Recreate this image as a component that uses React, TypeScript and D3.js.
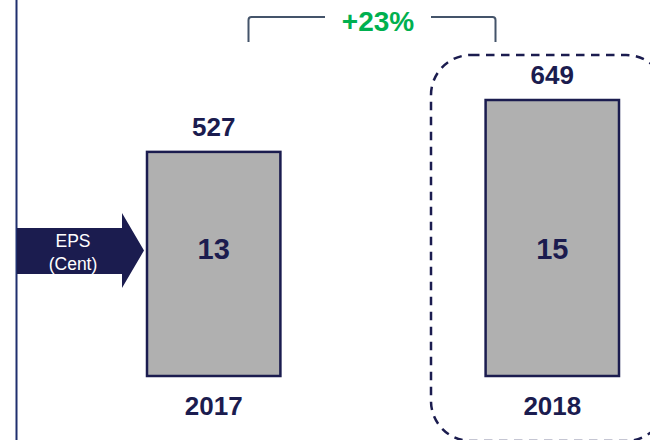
import { useEffect, useRef } from "react";
import * as d3 from "d3";

const years = ["2017", "2018"];
const netIncome = [527, 649];
const eps = [13, 15];
const growthLabel = "+23%";

const W = 650;
const H = 440;
const navy = "#1b1c4f";
const font = "'Liberation Sans', Arial, sans-serif";

const App = () => {
  const ref = useRef<SVGSVGElement>(null);

  useEffect(() => {
    if (!ref.current) return;
    const svg = d3.select(ref.current);
    svg.selectAll("*").remove();

    const baseline = 376;
    const y = d3.scaleLinear().domain([0, 649]).range([baseline, 100]);
    const x = d3
      .scaleBand<string>()
      .domain(years)
      .range([147, 619])
      .paddingInner(0.606)
      .paddingOuter(0);

    // left rule
    svg
      .append("line")
      .attr("x1", 16.5)
      .attr("x2", 16.5)
      .attr("y1", 0)
      .attr("y2", H)
      .attr("stroke", "#1f2f6e")
      .attr("stroke-width", 2);

    // dashed highlight box around 2018
    svg
      .append("rect")
      .attr("x", 431)
      .attr("y", 55)
      .attr("width", 235)
      .attr("height", 386)
      .attr("rx", 40)
      .attr("fill", "none")
      .attr("stroke", navy)
      .attr("stroke-width", 2.5)
      .attr("stroke-dasharray", "8.5 6.5");

    // growth bracket
    const bracket = svg.append("g").attr("fill", "none").attr("stroke", "#44546a").attr("stroke-width", 2);
    bracket
      .append("path")
      .attr("d", "M248.5,42 L248.5,20 Q248.5,17 251.5,17 L325,17");
    bracket
      .append("path")
      .attr("d", "M431,17 L492.5,17 Q495.5,17 495.5,20 L495.5,42");
    svg
      .append("text")
      .attr("x", 378)
      .attr("y", 31)
      .attr("text-anchor", "middle")
      .attr("font-family", font)
      .attr("font-weight", "bold")
      .attr("font-size", 28)
      .attr("fill", "#00b04f")
      .text(growthLabel);

    // bars
    const g = svg.append("g");
    g.selectAll("rect.bar")
      .data(years)
      .enter()
      .append("rect")
      .attr("class", "bar")
      .attr("x", (d) => x(d)!)
      .attr("y", (_d, i) => y(netIncome[i]))
      .attr("width", x.bandwidth())
      .attr("height", (_d, i) => baseline - y(netIncome[i]))
      .attr("fill", "#b0b0b0")
      .attr("stroke", navy)
      .attr("stroke-width", 2.5);

    const cx = (d: string) => x(d)! + x.bandwidth() / 2;

    g.selectAll("text.val")
      .data(years)
      .enter()
      .append("text")
      .attr("class", "val")
      .attr("x", cx)
      .attr("y", (_d, i) => y(netIncome[i]) - 16)
      .attr("text-anchor", "middle")
      .attr("font-family", font)
      .attr("font-weight", "bold")
      .attr("font-size", 26)
      .attr("fill", navy)
      .text((_d, i) => netIncome[i]);

    g.selectAll("text.eps")
      .data(years)
      .enter()
      .append("text")
      .attr("class", "eps")
      .attr("x", cx)
      .attr("y", 259)
      .attr("text-anchor", "middle")
      .attr("font-family", font)
      .attr("font-weight", "bold")
      .attr("font-size", 29)
      .attr("fill", navy)
      .text((_d, i) => eps[i]);

    g.selectAll("text.year")
      .data(years)
      .enter()
      .append("text")
      .attr("class", "year")
      .attr("x", cx)
      .attr("y", 415)
      .attr("text-anchor", "middle")
      .attr("font-family", font)
      .attr("font-weight", "bold")
      .attr("font-size", 26)
      .attr("fill", navy)
      .text((d) => d);

    // EPS arrow
    svg
      .append("path")
      .attr("d", "M17,228 L122,228 L122,213 L144,250.5 L122,288 L122,274 L17,274 Z")
      .attr("fill", navy);
    const lbl = svg
      .append("text")
      .attr("text-anchor", "middle")
      .attr("font-family", font)
      .attr("font-size", 17.5)
      .attr("fill", "#ffffff");
    lbl.append("tspan").attr("x", 73).attr("y", 247).text("EPS");
    lbl.append("tspan").attr("x", 73).attr("y", 270).text("(Cent)");
  }, []);

  return (
    <svg
      ref={ref}
      width={W}
      height={H}
      style={{ position: "absolute", left: 0, top: 0, background: "#fff" }}
    />
  );
};

export default App;
